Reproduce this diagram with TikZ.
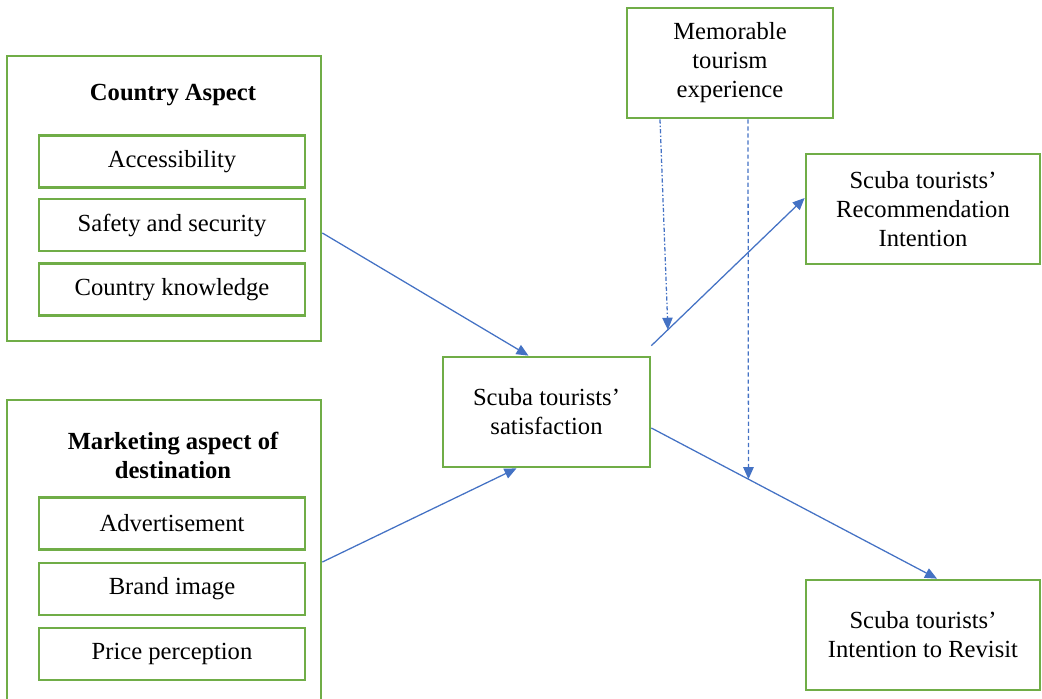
\documentclass[tikz,border=0pt]{standalone}
\usepackage{fontspec}
\setmainfont{Liberation Serif}
\usetikzlibrary{arrows.meta,positioning,calc}
\definecolor{boxgreen}{HTML}{70AD47}
\definecolor{arrblue}{HTML}{4472C4}

\begin{document}
\begin{tikzpicture}[
    x=0.025cm, y=-0.025cm,
    box/.style={draw=boxgreen, line width=1.9pt, minimum width=5.2cm, minimum height=2.75cm, align=center, font=\fontsize{17.5}{20.6}\selectfont, fill=white, inner sep=0pt},
    group/.style={draw=boxgreen, line width=1.9pt, minimum width=7.85cm, fill=white, inner sep=0pt},
    item/.style={draw=boxgreen, line width=1.9pt, minimum width=6.65cm, minimum height=1.3cm, align=center, font=\fontsize{17.5}{20.6}\selectfont, fill=white, inner sep=0pt},
    title/.style={align=center, font=\fontsize{17.5}{20.6}\selectfont\bfseries},
    arr/.style={-{Triangle[length=0.3cm, width=0.26cm]}, line width=0.9pt, draw=arrblue},
    modarr/.style={-{Triangle[length=0.3cm, width=0.26cm]}, line width=0.9pt, draw=arrblue}
]
  \useasboundingbox (0,0) rectangle (1042,699);

  % country aspect
  \node[group, minimum height=7.125cm] (Cbox) at (164, 198.5) {};
  \node[title] (Ctitle) at (173, 95) {Country Aspect};
  \node[item] (accbox)  at (172, 161.5) {Accessibility};
  \node[item] (safebox) at (172, 225)   {Safety and security};
  \node[item] (ckbox)   at (172, 289.5) {Country knowledge};

  % marketing aspect
  \node[group, minimum height=7.75cm] (Mbox) at (164, 555) {};
  \node[title] (Mtitle) at (173, 455) {Marketing aspect of\\destination};
  \node[item] (advbox)   at (172, 523.5) {Advertisement};
  \node[item] (brandbox) at (172, 589)   {Brand image};
  \node[item] (pricebox) at (172, 654)   {Price perception};

  \node[box, minimum width=5.175cm] (Sbox) at (546.5, 412) {Scuba tourists'\\satisfaction};
  \node[box, minimum width=5.15cm]  (MTbox) at (730, 63) {Memorable\\tourism\\experience};
  \node[box, minimum width=5.85cm]  (Rbox) at (923, 209) {Scuba tourists'\\Recommendation\\Intention};
  \node[box, minimum width=5.85cm]  (Vbox) at (923, 635) {Scuba tourists'\\Intention to Revisit};

  \coordinate (r1) at ($(Sbox.north east)+(0,-10)$);
  \coordinate (r2) at ($(Rbox.west)+(0,-11)$);
  \coordinate (v1) at ($(Sbox.east)+(0,16)$);
  \coordinate (v2) at ($(Vbox.north)+(14,0)$);

  \draw[arr] ($(Cbox.east)+(0,34.5)$) -- ($(Sbox.north)+(-18,0)$);
  \draw[arr] ($(Mbox.east)+(0,7)$) -- ($(Sbox.south)+(-30,0)$);
  \draw[arr] (r1) -- (r2);
  \draw[arr] (v1) -- (v2);

  % moderating effects
  \draw[modarr, dash pattern=on 3pt off 1.5pt on 1pt off 1.5pt] ($(MTbox.south)+(-70,0)$) -- ($(r1)!0.108!(r2)$);
  \draw[modarr, dash pattern=on 3pt off 2pt] ($(MTbox.south)+(18,0)$) -- ($(v1)!0.34!(v2)$);
\end{tikzpicture}
\end{document}
